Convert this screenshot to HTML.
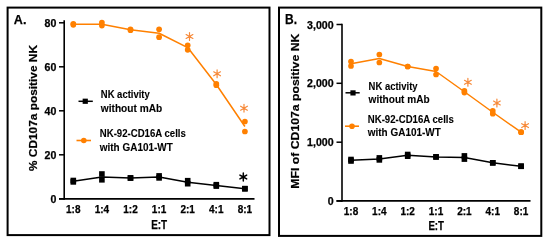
<!DOCTYPE html>
<html><head><meta charset="utf-8">
<style>
html,body{margin:0;padding:0;background:#fff;width:550px;height:244px;overflow:hidden}
svg{display:block;will-change:transform}
text{font-family:"Liberation Sans",sans-serif;font-weight:bold;stroke:#000;stroke-width:0.1px}
text.t{stroke-width:0.25px}
text.y{stroke-width:0.2px}
</style></head><body>
<svg width="550" height="244" viewBox="0 0 550 244">
<rect width="550" height="244" fill="#fff"/>
<rect x="7.6" y="7.6" width="261.9" height="227.5" fill="none" stroke="#000" stroke-width="2"/>
<text x="13.8" y="24" font-size="13.6" text-anchor="start" fill="#000" textLength="12.6" lengthAdjust="spacingAndGlyphs" class="t">A.</text>
<line x1="64.2" y1="20.3" x2="64.2" y2="199.7" stroke="#000" stroke-width="1.6" stroke-linecap="butt"/>
<line x1="59" y1="198.9" x2="254.5" y2="198.9" stroke="#000" stroke-width="1.7" stroke-linecap="butt"/>
<line x1="59" y1="22.8" x2="64.2" y2="22.8" stroke="#000" stroke-width="1.5" stroke-linecap="butt"/>
<text x="56.3" y="27" font-size="10" text-anchor="end" fill="#000" textLength="11.79" lengthAdjust="spacingAndGlyphs" class="t">80</text>
<line x1="59" y1="66.8" x2="64.2" y2="66.8" stroke="#000" stroke-width="1.5" stroke-linecap="butt"/>
<text x="56.3" y="71" font-size="10" text-anchor="end" fill="#000" textLength="11.79" lengthAdjust="spacingAndGlyphs" class="t">60</text>
<line x1="59" y1="110.8" x2="64.2" y2="110.8" stroke="#000" stroke-width="1.5" stroke-linecap="butt"/>
<text x="56.3" y="115" font-size="10" text-anchor="end" fill="#000" textLength="11.79" lengthAdjust="spacingAndGlyphs" class="t">40</text>
<line x1="59" y1="154.8" x2="64.2" y2="154.8" stroke="#000" stroke-width="1.5" stroke-linecap="butt"/>
<text x="56.3" y="159" font-size="10" text-anchor="end" fill="#000" textLength="11.79" lengthAdjust="spacingAndGlyphs" class="t">20</text>
<line x1="59" y1="198.8" x2="64.2" y2="198.8" stroke="#000" stroke-width="1.5" stroke-linecap="butt"/>
<text x="56.3" y="203" font-size="10" text-anchor="end" fill="#000" textLength="5.89" lengthAdjust="spacingAndGlyphs" class="t">0</text>
<text x="73.3" y="213" font-size="10" text-anchor="middle" fill="#000" class="t">1:8</text>
<text x="101.9" y="213" font-size="10" text-anchor="middle" fill="#000" class="t">1:4</text>
<text x="130.5" y="213" font-size="10" text-anchor="middle" fill="#000" class="t">1:2</text>
<text x="159.1" y="213" font-size="10" text-anchor="middle" fill="#000" class="t">1:1</text>
<text x="187.7" y="213" font-size="10" text-anchor="middle" fill="#000" class="t">2:1</text>
<text x="216.3" y="213" font-size="10" text-anchor="middle" fill="#000" class="t">4:1</text>
<text x="244.9" y="213" font-size="10" text-anchor="middle" fill="#000" class="t">8:1</text>
<text x="159.2" y="229" font-size="12" text-anchor="middle" fill="#000" textLength="16" lengthAdjust="spacingAndGlyphs" class="t">E:T</text>
<text class="y" transform="translate(36.8,108) rotate(-90)" x="0" y="0" font-size="10.5" text-anchor="middle" textLength="126" lengthAdjust="spacingAndGlyphs">% CD107a positive NK</text>
<polyline points="73.3,181.2 101.9,176.9 130.5,178 159.1,176.9 187.7,182.2 216.3,185.4 244.9,188.7" fill="none" stroke="#000" stroke-width="1.5" stroke-linejoin="round"/>
<rect x="70.5" y="177.7" width="5.6" height="5.6" fill="#000"/>
<rect x="70.5" y="179.1" width="5.6" height="5.6" fill="#000"/>
<rect x="99.1" y="171.2" width="5.6" height="5.6" fill="#000"/>
<rect x="99.1" y="177" width="5.6" height="5.6" fill="#000"/>
<rect x="127.7" y="175.2" width="5.6" height="5.6" fill="#000"/>
<rect x="127.7" y="175.2" width="5.6" height="5.6" fill="#000"/>
<rect x="156.3" y="173.1" width="5.6" height="5.6" fill="#000"/>
<rect x="156.3" y="175.1" width="5.6" height="5.6" fill="#000"/>
<rect x="184.9" y="177.9" width="5.6" height="5.6" fill="#000"/>
<rect x="184.9" y="180.9" width="5.6" height="5.6" fill="#000"/>
<rect x="213.5" y="181.9" width="5.6" height="5.6" fill="#000"/>
<rect x="213.5" y="183.3" width="5.6" height="5.6" fill="#000"/>
<rect x="242.1" y="185.9" width="5.6" height="5.6" fill="#000"/>
<rect x="242.1" y="185.9" width="5.6" height="5.6" fill="#000"/>
<path d="M243.3 177L243.3 173.1M243.3 177L239.92 175.05M243.3 177L239.92 178.95M243.3 177L243.3 180.9M243.3 177L246.68 178.95M243.3 177L246.68 175.05" stroke="#000" stroke-width="1.5" stroke-linecap="round" fill="none"/>
<polyline points="73.3,24.3 101.9,24.15 130.5,29.75 159.1,33.25 187.7,47.55 216.3,84.5 244.9,126.5" fill="none" stroke="#ff8000" stroke-width="1.5" stroke-linejoin="round"/>
<circle cx="73.3" cy="23.8" r="2.85" fill="#ff8000"/>
<circle cx="73.3" cy="24.8" r="2.85" fill="#ff8000"/>
<circle cx="101.9" cy="22.7" r="2.85" fill="#ff8000"/>
<circle cx="101.9" cy="25.6" r="2.85" fill="#ff8000"/>
<circle cx="130.5" cy="29.3" r="2.85" fill="#ff8000"/>
<circle cx="130.5" cy="30.2" r="2.85" fill="#ff8000"/>
<circle cx="159.1" cy="29.3" r="2.85" fill="#ff8000"/>
<circle cx="159.1" cy="37.2" r="2.85" fill="#ff8000"/>
<circle cx="187.7" cy="45.3" r="2.85" fill="#ff8000"/>
<circle cx="187.7" cy="49.8" r="2.85" fill="#ff8000"/>
<circle cx="216.3" cy="83.75" r="2.85" fill="#ff8000"/>
<circle cx="216.3" cy="85.25" r="2.85" fill="#ff8000"/>
<circle cx="244.9" cy="121.5" r="2.85" fill="#ff8000"/>
<circle cx="244.9" cy="131.5" r="2.85" fill="#ff8000"/>
<path d="M189.5 36.5L189.5 32.6M189.5 36.5L186.12 34.55M189.5 36.5L186.12 38.45M189.5 36.5L189.5 40.4M189.5 36.5L192.88 38.45M189.5 36.5L192.88 34.55" stroke="#f78a3a" stroke-width="1.2" stroke-linecap="round" fill="none"/>
<path d="M217.1 73.8L217.1 69.9M217.1 73.8L213.72 71.85M217.1 73.8L213.72 75.75M217.1 73.8L217.1 77.7M217.1 73.8L220.48 75.75M217.1 73.8L220.48 71.85" stroke="#f78a3a" stroke-width="1.2" stroke-linecap="round" fill="none"/>
<path d="M244 108.2L244 104.3M244 108.2L240.62 106.25M244 108.2L240.62 110.15M244 108.2L244 112.1M244 108.2L247.38 110.15M244 108.2L247.38 106.25" stroke="#f78a3a" stroke-width="1.2" stroke-linecap="round" fill="none"/>
<line x1="78.5" y1="101.3" x2="92.8" y2="101.3" stroke="#000" stroke-width="1.5" stroke-linecap="butt"/>
<rect x="82.65" y="98.65" width="5.2" height="5.2" fill="#000"/>
<text x="100.8" y="98" font-size="10.4" text-anchor="start" fill="#000" textLength="49" lengthAdjust="spacingAndGlyphs" >NK activity</text>
<text x="100.8" y="112" font-size="10.4" text-anchor="start" fill="#000" textLength="61.4" lengthAdjust="spacingAndGlyphs" >without mAb</text>
<line x1="76.5" y1="140.5" x2="91" y2="140.5" stroke="#ff8000" stroke-width="1.6" stroke-linecap="butt"/>
<circle cx="83.8" cy="140.5" r="2.8" fill="#ff8000"/>
<text x="99.8" y="137" font-size="10.4" text-anchor="start" fill="#000" textLength="86" lengthAdjust="spacingAndGlyphs" >NK-92-CD16A cells</text>
<text x="99.8" y="151" font-size="10.4" text-anchor="start" fill="#000" textLength="73" lengthAdjust="spacingAndGlyphs" >with GA101-WT</text>
<rect x="279" y="7.6" width="262.3" height="228.3" fill="none" stroke="#000" stroke-width="2"/>
<text x="285" y="24" font-size="13.8" text-anchor="start" fill="#000" textLength="12" lengthAdjust="spacingAndGlyphs" class="t">B.</text>
<line x1="342" y1="23.8" x2="342" y2="201.7" stroke="#000" stroke-width="1.6" stroke-linecap="butt"/>
<line x1="336.5" y1="200.9" x2="530.5" y2="200.9" stroke="#000" stroke-width="1.7" stroke-linecap="butt"/>
<line x1="336.5" y1="24.5" x2="342" y2="24.5" stroke="#000" stroke-width="1.5" stroke-linecap="butt"/>
<text x="333.6" y="29" font-size="10" text-anchor="end" fill="#000" textLength="26.52" lengthAdjust="spacingAndGlyphs" class="t">3,000</text>
<line x1="336.5" y1="83.3" x2="342" y2="83.3" stroke="#000" stroke-width="1.5" stroke-linecap="butt"/>
<text x="333.6" y="87" font-size="10" text-anchor="end" fill="#000" textLength="26.52" lengthAdjust="spacingAndGlyphs" class="t">2,000</text>
<line x1="336.5" y1="142.2" x2="342" y2="142.2" stroke="#000" stroke-width="1.5" stroke-linecap="butt"/>
<text x="333.6" y="146" font-size="10" text-anchor="end" fill="#000" textLength="26.52" lengthAdjust="spacingAndGlyphs" class="t">1,000</text>
<line x1="336.5" y1="201" x2="342" y2="201" stroke="#000" stroke-width="1.5" stroke-linecap="butt"/>
<text x="333.6" y="205" font-size="10" text-anchor="end" fill="#000" textLength="5.89" lengthAdjust="spacingAndGlyphs" class="t">0</text>
<text x="351" y="215" font-size="10" text-anchor="middle" fill="#000" class="t">1:8</text>
<text x="379.35" y="215" font-size="10" text-anchor="middle" fill="#000" class="t">1:4</text>
<text x="407.7" y="215" font-size="10" text-anchor="middle" fill="#000" class="t">1:2</text>
<text x="436.05" y="215" font-size="10" text-anchor="middle" fill="#000" class="t">1:1</text>
<text x="464.4" y="215" font-size="10" text-anchor="middle" fill="#000" class="t">2:1</text>
<text x="492.75" y="215" font-size="10" text-anchor="middle" fill="#000" class="t">4:1</text>
<text x="521.1" y="215" font-size="10" text-anchor="middle" fill="#000" class="t">8:1</text>
<text x="436.2" y="230" font-size="12" text-anchor="middle" fill="#000" textLength="15.6" lengthAdjust="spacingAndGlyphs" class="t">E:T</text>
<text class="y" transform="translate(299.1,111.2) rotate(-90)" x="0" y="0" font-size="11" text-anchor="middle" textLength="155" lengthAdjust="spacingAndGlyphs">MFI of CD107a positive NK</text>
<polyline points="351,160.25 379.35,158.9 407.7,155.35 436.05,156.9 464.4,157.5 492.75,162.8 521.1,166.25" fill="none" stroke="#000" stroke-width="1.5" stroke-linejoin="round"/>
<rect x="348.2" y="156.7" width="5.6" height="5.6" fill="#000"/>
<rect x="348.2" y="158.2" width="5.6" height="5.6" fill="#000"/>
<rect x="376.55" y="155.1" width="5.6" height="5.6" fill="#000"/>
<rect x="376.55" y="157.1" width="5.6" height="5.6" fill="#000"/>
<rect x="404.9" y="151.7" width="5.6" height="5.6" fill="#000"/>
<rect x="404.9" y="153.4" width="5.6" height="5.6" fill="#000"/>
<rect x="433.25" y="154.1" width="5.6" height="5.6" fill="#000"/>
<rect x="433.25" y="154.1" width="5.6" height="5.6" fill="#000"/>
<rect x="461.6" y="153.1" width="5.6" height="5.6" fill="#000"/>
<rect x="461.6" y="156.3" width="5.6" height="5.6" fill="#000"/>
<rect x="489.95" y="160" width="5.6" height="5.6" fill="#000"/>
<rect x="489.95" y="160" width="5.6" height="5.6" fill="#000"/>
<rect x="518.3" y="163.45" width="5.6" height="5.6" fill="#000"/>
<rect x="518.3" y="163.45" width="5.6" height="5.6" fill="#000"/>
<polyline points="351,63.75 379.35,58.5 407.7,66.5 436.05,71.5 464.4,91.75 492.75,112.25 521.1,132.2" fill="none" stroke="#ff8000" stroke-width="1.5" stroke-linejoin="round"/>
<circle cx="351" cy="61.5" r="2.85" fill="#ff8000"/>
<circle cx="351" cy="66" r="2.85" fill="#ff8000"/>
<circle cx="379.35" cy="54.5" r="2.85" fill="#ff8000"/>
<circle cx="379.35" cy="62.5" r="2.85" fill="#ff8000"/>
<circle cx="407.7" cy="66.5" r="2.85" fill="#ff8000"/>
<circle cx="407.7" cy="66.5" r="2.85" fill="#ff8000"/>
<circle cx="436.05" cy="68.5" r="2.85" fill="#ff8000"/>
<circle cx="436.05" cy="74.5" r="2.85" fill="#ff8000"/>
<circle cx="464.4" cy="90.9" r="2.85" fill="#ff8000"/>
<circle cx="464.4" cy="92.6" r="2.85" fill="#ff8000"/>
<circle cx="492.75" cy="110.8" r="2.85" fill="#ff8000"/>
<circle cx="492.75" cy="113.7" r="2.85" fill="#ff8000"/>
<circle cx="521.1" cy="132.2" r="2.85" fill="#ff8000"/>
<circle cx="521.1" cy="132.2" r="2.85" fill="#ff8000"/>
<path d="M467.9 82.3L467.9 78.4M467.9 82.3L464.52 80.35M467.9 82.3L464.52 84.25M467.9 82.3L467.9 86.2M467.9 82.3L471.28 84.25M467.9 82.3L471.28 80.35" stroke="#f78a3a" stroke-width="1.2" stroke-linecap="round" fill="none"/>
<path d="M496.9 103L496.9 99.1M496.9 103L493.52 101.05M496.9 103L493.52 104.95M496.9 103L496.9 106.9M496.9 103L500.28 104.95M496.9 103L500.28 101.05" stroke="#f78a3a" stroke-width="1.2" stroke-linecap="round" fill="none"/>
<path d="M525.1 125.6L525.1 121.7M525.1 125.6L521.72 123.65M525.1 125.6L521.72 127.55M525.1 125.6L525.1 129.5M525.1 125.6L528.48 127.55M525.1 125.6L528.48 123.65" stroke="#f78a3a" stroke-width="1.2" stroke-linecap="round" fill="none"/>
<line x1="345.5" y1="92.8" x2="359.7" y2="92.8" stroke="#000" stroke-width="1.5" stroke-linecap="butt"/>
<rect x="350.4" y="90.3" width="5.2" height="5.2" fill="#000"/>
<text x="368.6" y="90" font-size="10.4" text-anchor="start" fill="#000" textLength="49" lengthAdjust="spacingAndGlyphs" >NK activity</text>
<text x="368.6" y="103" font-size="10.4" text-anchor="start" fill="#000" textLength="61" lengthAdjust="spacingAndGlyphs" >without mAb</text>
<line x1="345" y1="126.2" x2="359" y2="126.2" stroke="#ff8000" stroke-width="1.6" stroke-linecap="butt"/>
<circle cx="352" cy="126.3" r="2.8" fill="#ff8000"/>
<text x="367.8" y="123" font-size="10.4" text-anchor="start" fill="#000" textLength="86" lengthAdjust="spacingAndGlyphs" >NK-92-CD16A cells</text>
<text x="367.8" y="136" font-size="10.4" text-anchor="start" fill="#000" textLength="73" lengthAdjust="spacingAndGlyphs" >with GA101-WT</text>
</svg>
</body></html>
